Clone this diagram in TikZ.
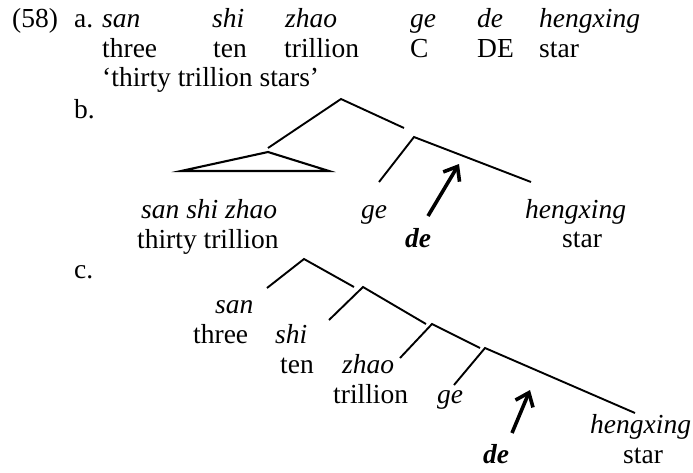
\documentclass[tikz,border=0pt]{standalone}
\usepackage{fontspec}
\setmainfont{Liberation Serif}
\usetikzlibrary{arrows.meta}

\begin{document}
\begin{tikzpicture}[x=1pt, y=-1pt,
  %% palavras e glosas
  wd/.style={anchor=base west, inner sep=0pt,
    font=\fontsize{27.5}{30}\selectfont},
  it/.style={wd, font=\fontsize{27.5}{30}\selectfont\itshape},
  bit/.style={wd, font=\fontsize{27.5}{30}\selectfont\bfseries\itshape},
  %% ramos da árvore
  br/.style={line width=1.9pt},
  %% triângulo
  tri/.style={line width=2.1pt, line join=miter},
  %% setas
  arr/.style={-{Straight Barb[length=12pt,width=19pt]}, line width=3.6pt}
]
\useasboundingbox (0,0) rectangle (693,472);

%% ================================================================
%% (58) a. — GLOSA
%% ================================================================
\node[wd] (num) at (12,27) {(58)};
\node[wd] (la)  at (74,27) {a.};

\node[it] (aSan)  at (102,27) {san};
\node[it] (aShi)  at (212,27) {shi};
\node[it] (aZhao) at (285,27) {zhao};
\node[it] (aGe)   at (410,27) {ge};
\node[it] (aDe)   at (477,27) {de};
\node[it] (aHeng) at (539,27) {hengxing};

\node[wd] (aThree) at (102,57) {three};
\node[wd] (aTen)   at (213,57) {ten};
\node[wd] (aTril)  at (284,57) {trillion};
\node[wd] (aC)     at (410,57) {C};
\node[wd] (aDE)    at (477,57) {DE};
\node[wd] (aStar)  at (539,57) {star};

\node[wd] (aTrans) at (102,86) {‘thirty trillion stars’};

%% ================================================================
%% b. — ÁRVORE COM TRIÂNGULO
%% ================================================================
\node[wd] (lb) at (74,118) {b.};

\coordinate (bTop)   at (341,99);
\coordinate (bTopL)  at (268,148);
\coordinate (bTopR)  at (404,128);
\coordinate (bTri)   at (268,152);
\coordinate (bTriL)  at (181,171);
\coordinate (bTriR)  at (329,171);
\coordinate (bMid)   at (414,137);
\coordinate (bMidL)  at (379,182);
\coordinate (bMidR)  at (531,182);

\draw[br] (bTopL) -- (bTop) -- (bTopR);
\draw[tri] (bTriL) -- (bTri) -- (bTriR) -- cycle;
\draw[br] (bMidL) -- (bMid) -- (bMidR);

\node[it]  (bSsz)  at (141,218) {san shi zhao};
\node[wd]  (bTt)   at (137,248) {thirty trillion};
\node[it]  (bGe)   at (361,218) {ge};
\node[bit] (bDe)   at (405,247) {de};
\node[it]  (bHeng) at (525,218) {hengxing};
\node[wd]  (bStar) at (562,247) {star};

\coordinate (bArrS) at (428,216);
\coordinate (bArrE) at (459,164);
\draw[arr] (bArrS) -- (bArrE);

%% ================================================================
%% c. — ÁRVORE RAMIFICADA À DIREITA
%% ================================================================
\node[wd] (lc) at (74,278) {c.};

\coordinate (cA)  at (304,259);
\coordinate (cAL) at (267,288);
\coordinate (cAR) at (354,287);
\coordinate (cB)  at (363,287);
\coordinate (cBL) at (329,320);
\coordinate (cBR) at (426,324);
\coordinate (cC)  at (432,324);
\coordinate (cCL) at (400,358);
\coordinate (cCR) at (480,348);
\coordinate (cD)  at (485,348);
\coordinate (cDL) at (454,385);
\coordinate (cDR) at (635,413);

\draw[br] (cAL) -- (cA) -- (cAR);
\draw[br] (cBL) -- (cB) -- (cBR);
\draw[br] (cCL) -- (cC) -- (cCR);
\draw[br] (cDL) -- (cD) -- (cDR);

\node[it]  (cSan)   at (215,313) {san};
\node[wd]  (cThree) at (193,343) {three};
\node[it]  (cShi)   at (275,343) {shi};
\node[wd]  (cTen)   at (280,373) {ten};
\node[it]  (cZhao)  at (342,373) {zhao};
\node[wd]  (cTril)  at (333,403) {trillion};
\node[it]  (cGe)    at (437,403) {ge};
\node[it]  (cHeng)  at (590,433) {hengxing};
\node[bit] (cDe)    at (483,463) {de};
\node[wd]  (cStar)  at (623,463) {star};

\coordinate (cArrS) at (512,433);
\coordinate (cArrE) at (530,390);
\draw[arr] (cArrS) -- (cArrE);

\end{tikzpicture}
\end{document}
